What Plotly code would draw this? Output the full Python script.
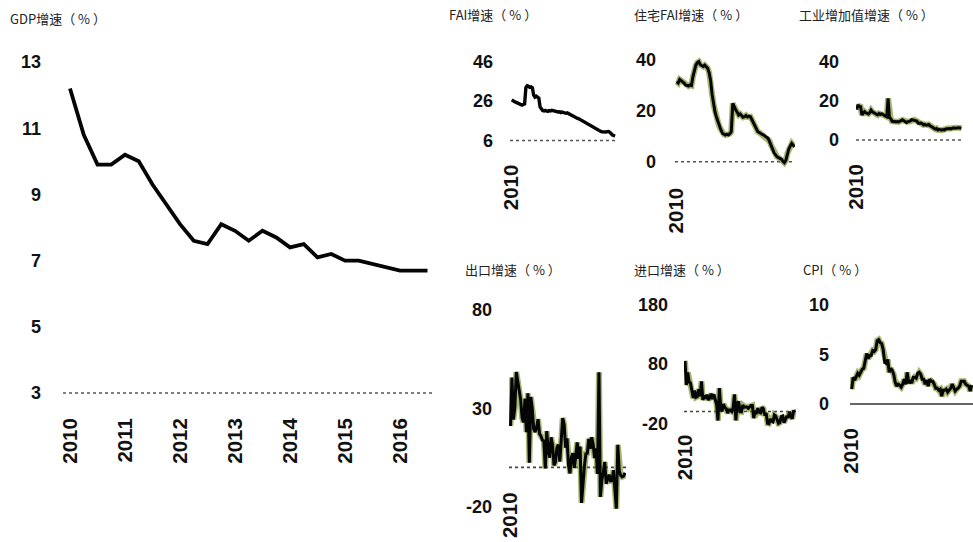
import plotly.graph_objects as go

W, H = 973, 542

# ---------------- data ----------------
gdp_quarters = ["2010Q1", "2010Q2", "2010Q3", "2010Q4", "2011Q1", "2011Q2", "2011Q3", "2011Q4",
                "2012Q1", "2012Q2", "2012Q3", "2012Q4", "2013Q1", "2013Q2", "2013Q3", "2013Q4",
                "2014Q1", "2014Q2", "2014Q3", "2014Q4", "2015Q1", "2015Q2", "2015Q3", "2015Q4",
                "2016Q1", "2016Q2", "2016Q3"]
gdp_growth = [12.2, 10.8, 9.9, 9.9, 10.2, 10.0, 9.3, 8.7, 8.1, 7.6, 7.5, 8.1, 7.9, 7.6, 7.9, 7.7,
              7.4, 7.5, 7.1, 7.2, 7.0, 7.0, 6.9, 6.8, 6.7, 6.7, 6.7]
gdp_year_ticks = [2010, 2011, 2012, 2013, 2014, 2015, 2016]
gdp_y_ticks = [3, 5, 7, 9, 11, 13]

# monthly labels Jan 2010 ... Sep 2016
months = [f"{y}-{m:02d}" for y in range(2010, 2017) for m in range(1, 13)][:81]

fai_growth = [26.6, 26.4, 25.8, 25.5, 25.2, 25.0, 24.5, 24.2, 24.0, 24.3, 24.6,
              33.0, 33.8, 33.5, 33.0, 33.2, 32.8,
              29.0, 28.0, 28.5, 27.8, 27.5, 23.0, 21.8,
              21.2, 21.0, 21.3, 21.0, 20.8, 21.2, 21.0, 21.3, 21.1, 20.9, 20.7, 20.9,
              20.5, 20.6, 20.2, 20.4, 20.1, 20.0, 19.8, 20.0, 19.6, 19.4, 19.2, 18.8,
              18.2, 17.9, 17.6, 17.2, 17.0, 16.6, 16.3, 16.0, 15.8, 15.3, 15.0, 14.6,
              14.2, 13.8, 13.2, 12.6, 12.2, 11.8, 11.5, 11.2, 11.0, 10.6, 10.4, 10.3,
              10.2, 10.3, 10.5, 10.6, 10.2, 9.4, 8.8, 8.5, 8.2]

res_fai_growth = [31.5, 31.0, 32.4, 32.0, 31.5, 31.0, 30.2, 30.0, 29.8, 30.2, 30.0, 33.5,
                  36.5, 38.0, 39.0, 39.4, 38.2, 38.0, 37.5, 38.0, 37.2, 36.8, 35.0, 32.0,
                  26.5, 22.5, 19.5, 17.5, 15.5, 13.8, 12.5, 11.2, 10.8, 10.5, 10.8, 10.5,
                  11.0, 11.8, 23.0, 21.5, 20.4, 19.5, 18.4, 18.8, 18.0, 17.5, 17.7, 18.2,
                  17.6, 17.9, 17.7, 16.5, 15.1, 14.0, 13.0, 11.8, 11.5, 11.0, 10.7, 10.5,
                  10.2, 9.6, 9.2, 8.0, 6.5, 5.0, 3.5, 2.6, 2.0, 1.6, 1.3, 1.0,
                  0.2, -0.4, 0.5, 3.3, 5.0, 6.2, 7.2, 6.5, 5.9]

iva_growth = [15.5, 17.9, 17.2, 17.0, 12.8, 13.4, 14.5, 13.9, 13.6, 13.3, 14.0, 15.3,
              14.4, 14.1, 13.6, 13.4, 12.8, 13.5, 13.0, 13.4, 12.8, 12.6, 12.2, 11.9,
              21.3, 11.4, 11.0, 9.6, 9.4, 9.5, 9.2, 9.4, 9.2, 9.6, 10.1, 10.3,
              9.9, 9.4, 8.9, 9.3, 9.4, 9.7, 10.4, 10.2, 10.3, 10.0, 9.7, 8.6,
              8.8, 8.7, 8.4, 7.7, 8.0, 7.6, 7.7, 7.9, 7.2, 7.0, 6.5, 6.0,
              5.6, 5.9, 5.1, 5.4, 5.1, 5.0, 5.3, 5.1, 5.6, 5.8, 6.0, 5.9,
              5.7, 6.0, 6.2, 6.0, 6.1, 6.3, 6.3, 6.1, 6.0]

export_growth = [21.0, 45.7, 24.3, 30.5, 48.5, 43.9, 38.1, 34.4, 25.1, 22.9, 34.9, 17.9,
                 37.7, 2.4, 35.8, 29.9, 19.4, 17.9, 20.4, 24.5, 17.1, 15.9, 13.8, 13.4,
                 -0.5, 18.4, 8.9, 4.9, 15.3, 11.3, 1.0, 2.7, 9.9, 11.6, 2.9, 14.1,
                 25.0, 21.8, 10.0, 14.7, 1.0, -3.1, 5.1, 7.2, -0.3, 5.6, 12.7, 4.3,
                 10.6, -18.1, -6.6, 0.9, 7.0, 7.2, 14.5, 9.4, 15.3, 11.6, 4.7, 9.7,
                 -3.3, 48.3, -15.0, -6.4, -2.5, 2.8, -8.3, -5.5, -3.7, -6.9, -6.8, -1.4,
                 -11.2, -21.0, 11.5, -1.8, -4.1, -4.8, -4.4, -2.8]

import_growth = [85.5, 44.7, 66.0, 49.7, 48.3, 34.1, 22.7, 35.2, 24.1, 25.3, 37.7, 25.6,
                 51.0, 19.4, 27.3, 21.8, 28.4, 19.3, 22.9, 30.2, 20.9, 28.7, 22.1, 11.8,
                 -15.3, 39.6, 5.3, 0.3, 12.7, 6.3, 4.7, -2.6, 2.4, 2.4, 0.0, 6.0,
                 28.8, -15.2, 14.1, 16.8, -0.3, -0.7, 10.9, 7.0, 7.4, 7.6, 5.3, 8.3,
                 10.0, 10.1, -11.3, 0.8, -1.6, 5.5, -1.6, -2.4, 7.0, 4.6, -6.7, -2.4,
                 -19.9, -20.5, -12.7, -16.2, -17.6, -6.1, -8.1, -13.8, -20.4, -18.8, -8.7, -7.6,
                 -18.8, -13.8, -7.6, -10.9, -0.4, -8.4, -12.5, 1.5, -1.9]

cpi_growth = [1.5, 2.7, 2.4, 2.8, 3.1, 2.9, 3.3, 3.5, 3.6, 4.4, 5.1, 4.6,
              4.9, 4.9, 5.4, 5.3, 5.5, 6.4, 6.5, 6.2, 6.1, 5.5, 4.2, 4.1,
              4.5, 3.2, 3.6, 3.4, 3.0, 2.2, 1.8, 2.0, 1.9, 1.7, 2.0, 2.5,
              2.0, 3.2, 2.1, 2.4, 2.1, 2.7, 2.7, 2.6, 3.1, 3.2, 3.0, 2.5,
              2.5, 2.0, 2.4, 1.8, 2.5, 2.3, 2.3, 2.0, 1.6, 1.6, 1.4, 1.5,
              0.8, 1.4, 1.4, 1.5, 1.2, 1.4, 1.6, 2.0, 1.6, 1.3, 1.5, 1.6,
              1.8, 2.3, 2.3, 2.3, 2.0, 1.9, 1.8, 1.3, 1.9]

titles = ["GDP增速（ % ）", "FAI增速（ % ）", "住宅FAI增速（ % ）", "工业增加值增速（ % ）",
          "出口增速（ % ）", "进口增速（ % ）", "CPI（ % ）"]

# ---------------- helpers ----------------
def quarter_to_year(q):
    return int(q[:4]) + (int(q[-1]) - 1) / 4.0

def month_to_year(m):
    return int(m[:4]) + (int(m[5:7]) - 1) / 12.0

gdp_x = [quarter_to_year(q) for q in gdp_quarters]
month_x = [month_to_year(m) for m in months]

# layout geometry per panel (pixels)
panels = [
    dict(title=titles[0], x=gdp_x, y=gdp_growth, halo=False, lw=3.8,
         x0px=70, pxyr=55.0, dl=63, dr=434,
         ycal=(13, 62, 3, 393), yr=(2.6, 13.3), base=3, yticks=gdp_y_ticks,
         xticks=gdp_year_ticks, ystand=22, xstand=20, tpos=(8, 18.5), basecol="#555", basedash="dot"),
    dict(title=titles[1], x=month_x[:len(fai_growth)], y=fai_growth, halo=False, lw=3.4,
         x0px=511.7, pxyr=15.5, dl=510, dr=616,
         ycal=(46, 61.7, 6, 140.5), yr=(4, 48), base=6, yticks=[6, 26, 46],
         xticks=[2010], ystand=17, xstand=19, tpos=(447, 15), basecol="#555", basedash="dot"),
    dict(title=titles[2], x=month_x[:len(res_fai_growth)], y=res_fai_growth, halo=True, lw=3.0,
         x0px=676.7, pxyr=17.7, dl=675, dr=795,
         ycal=(40, 60.1, 0, 161.7), yr=(-3, 42), base=0, yticks=[0, 20, 40],
         xticks=[2010], ystand=19, xstand=21, tpos=(632, 15), basecol="#555", basedash="dot"),
    dict(title=titles[3], x=month_x[:len(iva_growth)], y=iva_growth, halo=True, lw=3.0,
         x0px=856.7, pxyr=15.7, dl=856, dr=962,
         ycal=(40, 61.7, 0, 140), yr=(-2, 42), base=0, yticks=[0, 20, 40],
         xticks=[2010], ystand=17, xstand=19, tpos=(797, 15), basecol="#555", basedash="dot"),
    dict(title=titles[4], x=month_x[:len(export_growth)], y=export_growth, halo=True, lw=3.0,
         x0px=510.5, pxyr=17.4, dl=509, dr=626,
         ycal=(80, 310, -20, 506.7), yr=(-24, 82), base=0, yticks=[-20, 30, 80],
         xticks=[2010], ystand=17, xstand=20, tpos=(463, 269.5), basecol="#444", basedash="dot"),
    dict(title=titles[5], x=month_x[:len(import_growth)], y=import_growth, halo=True, lw=3.0,
         x0px=685, pxyr=16.5, dl=684, dr=796,
         ycal=(180, 305, -20, 423.3), yr=(-26, 185), base=0, yticks=[-20, 80, 180],
         xticks=[2010], ystand=16, xstand=18, tpos=(632, 269.5), basecol="#444", basedash="dot"),
    dict(title=titles[6], x=month_x[:len(cpi_growth)], y=cpi_growth, halo=True, lw=3.0,
         x0px=851.7, pxyr=18.0, dl=850, dr=973,
         ycal=(10, 305, 0, 404), yr=(-0.6, 10.5), base=0, yticks=[0, 5, 10],
         xticks=[2010], ystand=21, xstand=19, tpos=(801, 269.5), basecol="#333", basedash="solid"),
]

TICK_FONT = dict(family="Liberation Sans, Arial, sans-serif", size=18, color="#111", weight="bold")
YEAR_FONT = dict(family="Liberation Sans, Arial, sans-serif", size=20.5, color="#111", weight="bold")
TITLE_FONT = dict(family="Noto Sans CJK SC, sans-serif", size=13, color="#222")

fig = go.Figure()
layout = dict(width=W, height=H, margin=dict(l=0, r=0, t=0, b=0, pad=0, autoexpand=False),
              autosize=False, paper_bgcolor="white", plot_bgcolor="white", showlegend=False)
shapes, annotations = [], []

for i, p in enumerate(panels, start=1):
    key = "" if i == 1 else str(i)
    xa, ya = "x" + key, "y" + key
    vt, pt, vb, pb = p["ycal"]

    def vpx(v, vt=vt, pt=pt, vb=vb, pb=pb):
        return pb + (v - vb) * (pt - pb) / (vt - vb)

    xr = [2010 + (p["dl"] - p["x0px"]) / p["pxyr"], 2010 + (p["dr"] - p["x0px"]) / p["pxyr"]]
    ydom = [1 - vpx(p["yr"][0]) / H, 1 - vpx(p["yr"][1]) / H]
    ydom = [max(0.0, ydom[0]), min(1.0, ydom[1])]

    if p["halo"]:
        fig.add_trace(go.Scatter(x=p["x"], y=p["y"], mode="lines", xaxis=xa, yaxis=ya,
                                 line=dict(color="rgba(105,135,20,0.6)", width=p["lw"] + 3.0),
                                 hoverinfo="skip"))
    fig.add_trace(go.Scatter(x=p["x"], y=p["y"], mode="lines", xaxis=xa, yaxis=ya,
                             line=dict(color="#050505", width=p["lw"])))

    layout["xaxis" + key] = dict(
        domain=[p["dl"] / W, min(1.0, p["dr"] / W)], range=xr, anchor="free",
        position=1 - vpx(p["base"]) / H, automargin=False,
        tickmode="array", tickvals=p["xticks"], ticktext=[str(t) for t in p["xticks"]],
        tickangle=-90, ticks="", ticklabelstandoff=p["xstand"], tickfont=YEAR_FONT,
        showgrid=False, zeroline=False, showline=False, fixedrange=True)
    layout["yaxis" + key] = dict(
        domain=ydom, range=list(p["yr"]), anchor="free", position=p["dl"] / W, automargin=False,
        tickmode="array", tickvals=p["yticks"], ticktext=[str(t) for t in p["yticks"]],
        ticks="", ticklabelstandoff=p["ystand"], tickfont=TICK_FONT,
        showgrid=False, zeroline=False, showline=False, fixedrange=True)

    shapes.append(dict(type="line", xref=f"{xa} domain", yref=ya, x0=0, x1=1,
                       y0=p["base"], y1=p["base"], layer="below",
                       line=dict(color=p["basecol"], width=1.6, dash=p["basedash"])))
    annotations.append(dict(text=p["title"], xref="paper", yref="paper",
                            x=p["tpos"][0] / W, y=1 - p["tpos"][1] / H,
                            xanchor="left", yanchor="middle", showarrow=False, font=TITLE_FONT))

layout["shapes"] = shapes
layout["annotations"] = annotations
fig.update_layout(**layout)
fig.write_html("out.html", config={"displayModeBar": False},
               post_script="document.body.style.margin='0px';document.body.style.padding='0px';")
